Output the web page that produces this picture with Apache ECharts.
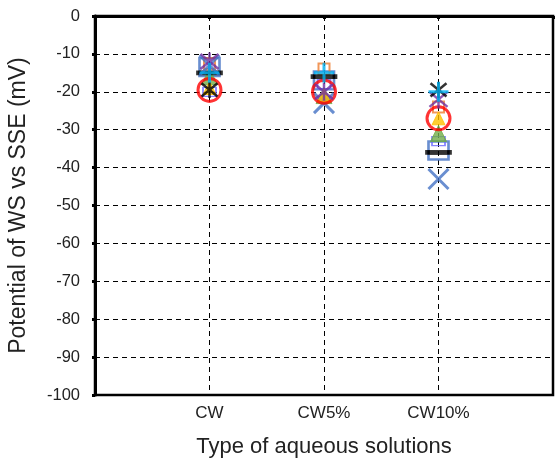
<!DOCTYPE html>
<html>
<head>
<meta charset="utf-8">
<script src="https://cdn.jsdelivr.net/npm/echarts@6/dist/echarts.min.js"></script>
<style>
html, body { margin: 0; padding: 0; background: #fff; }
#chart { width: 555px; height: 459px; }
</style>
</head>
<body>
<div id="chart"></div>
<script>
// 类别（x轴位置 1,2,3）
let categories = ['CW', 'CW5%', 'CW10%'];
let yTicks = [0, -10, -20, -30, -40, -50, -60, -70, -80, -90, -100];

// 各组测量值 (mV)，null 表示该组没有点
let blueX      = [-13, -23, -43];
let orangeSq   = [-12.5, -14, -24];
let greenTri   = [-16, -21, -31];
let purpleX    = [-12, -20, -22];
let cyanPlus   = [-15, -15, -20];
let blackDash  = [-15, -16, -36];
let blueSq     = [-13.5, -17, -35.5];
let redCircle  = [-19.5, -20, -27];
let yellowTri  = [-19, -21, -27];
let blackStar  = [-19.5, null, -19.5];
let violetRect = [-20, -18, -33];

const X_PATH = 'path://M0,0L10,10M10,0L0,10';
const STAR_PATH = 'path://M0,0L10,10M10,0L0,10M5,-1L5,11';
const PLUS_PATH = 'path://M5,0L5,10M0,5L10,5';

function toPoints(vals) {
    let pts = [];
    for (let i = 0; i < vals.length; i++) {
        if (vals[i] !== null) pts.push([i + 1, vals[i]]);
    }
    return pts;
}

function makeSeries(vals, symbol, size, color, filled, width) {
    return {
        type: 'scatter',
        data: toPoints(vals),
        symbol: symbol,
        symbolSize: size,
        itemStyle: {
            color: filled ? color : 'transparent',
            borderColor: color,
            borderWidth: width || 2
        },
        emphasis: { disabled: true }
    };
}

let chart = echarts.init(document.getElementById('chart'));
chart.setOption({
    animation: false,
    grid: {
        left: 95, right: 2, top: 16, bottom: 64,
        containLabel: false,
        outerBoundsMode: 'none',
        show: true, borderColor: '#000', borderWidth: 2.5
    },
    xAxis: {
        type: 'value',
        min: 0, max: 4, interval: 1,
        name: 'Type of aqueous solutions',
        nameLocation: 'middle',
        nameGap: 41,
        nameTextStyle: { fontFamily: 'Liberation Sans', fontSize: 22, color: '#222' },
        axisLine: { lineStyle: { color: '#000', width: 3 } },
        axisTick: { show: true, length: 3, lineStyle: { color: '#000', width: 3 } },
        axisLabel: {
            fontFamily: 'Liberation Sans', fontSize: 17, color: '#222', margin: 10,
            formatter: function(v){ return categories[v - 1] || ''; }
        },
        splitLine: { show: true, lineStyle: { color: '#000', type: [5, 4], width: 1 } }
    },
    yAxis: {
        type: 'value',
        min: -100, max: 0, interval: 10,
        name: 'Potential of WS vs SSE (mV)',
        nameLocation: 'middle',
        nameGap: 65,
        nameTextStyle: { fontFamily: 'Liberation Sans', fontSize: 23, color: '#222' },
        axisLine: { show: true, lineStyle: { color: '#000', width: 3 } },
        axisTick: { show: true, length: 3, lineStyle: { color: '#000', width: 3 } },
        axisLabel: {
            fontFamily: 'Liberation Sans', fontSize: 16.5, color: '#222', margin: 15,
            formatter: function(v){ return yTicks.indexOf(v) >= 0 ? String(v) : ''; }
        },
        splitLine: { show: true, lineStyle: { color: '#000', type: [5, 4], width: 1 } }
    },
    series: [
        makeSeries(blueSq, 'rect', [20, 18], '#4472C4', false, 2.5),
        makeSeries(violetRect, 'rect', [13, 9], '#6666FF', false, 1.5),
        makeSeries(orangeSq, 'rect', 11, '#ED7D31', false, 2),
        makeSeries(greenTri, 'triangle', 16, '#70AD47', true, 1),
        makeSeries(blackDash, 'rect', [22, 4], '#000000', true, 0),
        makeSeries(blueX, X_PATH, 20, '#4472C4', false, 3),
        makeSeries(yellowTri, 'triangle', 13, '#FFC000', true, 1),
        makeSeries(redCircle, 'circle', 23, '#FF0000', false, 3),
        makeSeries(purpleX, STAR_PATH, 18, '#7030A0', false, 2.5),
        makeSeries(blackStar, STAR_PATH, 16, '#000000', false, 2.5),
        makeSeries(cyanPlus, PLUS_PATH, 20, '#00B0F0', false, 3)
    ]
});
</script>
</body>
</html>
